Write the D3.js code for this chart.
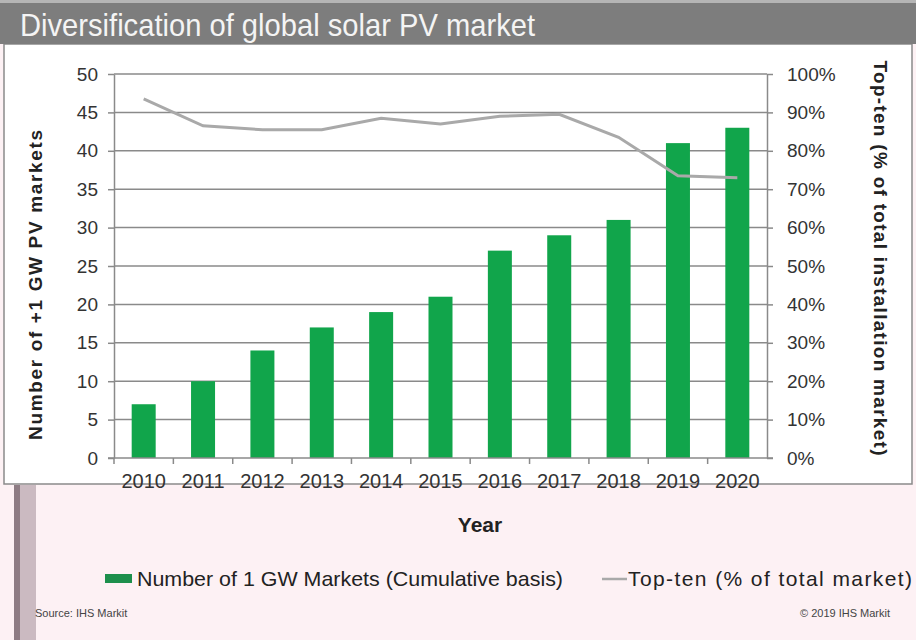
<!DOCTYPE html>
<html>
<head>
<meta charset="utf-8">
<script src="https://cdn.jsdelivr.net/npm/d3@7"></script>
<style>
body { margin: 0; background: #fff; }
svg { display: block; font-family: "Liberation Sans", Arial, sans-serif; }
</style>
</head>
<body>
<div id="viz"></div>
<script>
// data
var years = ["2010","2011","2012","2013","2014","2015","2016","2017","2018","2019","2020"];
var markets = [7, 10, 14, 17, 19, 21, 27, 29, 31, 41, 43];
var topTen = [93.5, 86.5, 85.5, 85.5, 88.5, 87, 89, 89.5, 83.5, 73.5, 73];
var leftTicks = [0, 5, 10, 15, 20, 25, 30, 35, 40, 45, 50];
var rightTicks = [0, 10, 20, 30, 40, 50, 60, 70, 80, 90, 100];

var W = 916, H = 640;
var pLeft = 114, pRight = 767, pTop = 74, pBottom = 458;

var svg = d3.select("#viz")
	.append("svg")
	.attr("width", W)
	.attr("height", H);

// backgrounds
svg.append("rect").attr("x",0).attr("y",0).attr("width",W).attr("height",H).attr("fill","#fdf1f4");
svg.append("rect").attr("x",4).attr("y",44).attr("width",908).attr("height",440)
	.attr("fill","#fff").attr("stroke","#8a8a8a").attr("stroke-width",1.5);
svg.append("rect").attr("x",0).attr("y",0).attr("width",W).attr("height",44).attr("fill","#7d7d7d");
svg.append("rect").attr("x",0).attr("y",0).attr("width",W).attr("height",3).attr("fill","#b5b5b5");
svg.append("rect").attr("x",14).attr("y",485).attr("width",6).attr("height",H-485).attr("fill","#8e7c84");
svg.append("rect").attr("x",20).attr("y",485).attr("width",16).attr("height",H-485).attr("fill","#cbbac1");

svg.append("text")
	.attr("x",20).attr("y",36)
	.attr("fill","#f4f4f4")
	.attr("textLength",515).attr("lengthAdjust","spacingAndGlyphs")
	.style("font-size","32px")
	.text("Diversification  of global solar PV market");

// scales
var xo = d3.scaleBand().domain(years).range([pLeft, pRight]);
var y = d3.scaleLinear().domain([0, 50]).range([pBottom, pTop]);
var y2 = d3.scaleLinear().domain([0, 100]).range([pBottom, pTop]);

// grid
svg.append("g").selectAll("line")
	.data(leftTicks.slice(1))
	.enter().append("line")
	.attr("x1", pLeft).attr("x2", pRight)
	.attr("y1", function(d){ return y(d); })
	.attr("y2", function(d){ return y(d); })
	.attr("stroke","#8a8a8a").attr("stroke-width",1.5);

// bars
svg.append("g").selectAll("rect")
	.data(markets)
	.enter().append("rect")
	.attr("x", function(d,i){ return xo(years[i]) + xo.bandwidth()/2 - 12; })
	.attr("width", 24)
	.attr("y", function(d){ return y(d); })
	.attr("height", function(d){ return pBottom - y(d); })
	.attr("fill","#11a54b");

// line
var line = d3.line()
	.x(function(d,i){ return xo(years[i]) + xo.bandwidth()/2; })
	.y(function(d){ return y2(d); });
svg.append("path")
	.datum(topTen)
	.attr("d", line)
	.attr("fill","none")
	.attr("stroke","#a9a9a9")
	.attr("stroke-width",3);

// axes
function styleAxis(g){
	g.selectAll("path,line").attr("stroke","#8a8a8a").attr("stroke-width",1.5);
	g.selectAll("text").attr("fill","#333").style("font-size","19px").style("font-family","'Liberation Sans', Arial, sans-serif");
}

var gl = svg.append("g").attr("transform","translate("+pLeft+",0)")
	.call(d3.axisLeft(y).tickValues(leftTicks).tickSize(6).tickSizeOuter(0).tickPadding(10));
styleAxis(gl);

var gr = svg.append("g").attr("transform","translate("+pRight+",0)")
	.call(d3.axisRight(y2).tickValues(rightTicks).tickSize(6).tickSizeOuter(0).tickPadding(14)
		.tickFormat(function(d){ return d + "%"; }));
styleAxis(gr);

var gb = svg.append("g").attr("transform","translate(0,"+pBottom+")")
	.call(d3.axisBottom(xo).tickSize(0).tickPadding(16));
styleAxis(gb);
gb.selectAll("text").style("font-size","20px");
gb.select(".domain").remove();
svg.append("line").attr("x1",pLeft-6).attr("x2",pRight+6).attr("y1",pBottom).attr("y2",pBottom)
	.attr("stroke","#8a8a8a").attr("stroke-width",1.5);
// tick marks between categories
svg.append("g").selectAll("line")
	.data(years)
	.enter().append("line")
	.attr("x1", function(d){ return xo(d); })
	.attr("x2", function(d){ return xo(d); })
	.attr("y1", pBottom).attr("y2", pBottom + 6)
	.attr("stroke","#8a8a8a").attr("stroke-width",1.5);

// axis titles
svg.append("text")
	.attr("transform","translate(42,285) rotate(-90)")
	.attr("text-anchor","middle")
	.attr("textLength",310).attr("lengthAdjust","spacing")
	.style("font-size","19px").style("font-weight","bold")
	.attr("fill","#222")
	.text("Number of +1 GW PV markets");

svg.append("text")
	.attr("transform","translate(874,258) rotate(90)")
	.attr("text-anchor","middle")
	.attr("textLength",395).attr("lengthAdjust","spacing")
	.style("font-size","19px").style("font-weight","bold")
	.attr("fill","#222")
	.text("Top-ten (% of total installation market)");

svg.append("text")
	.attr("x",480).attr("y",532)
	.attr("text-anchor","middle")
	.style("font-size","21px").style("font-weight","bold")
	.attr("fill","#222")
	.text("Year");

// legend
svg.append("rect").attr("x",105).attr("y",574).attr("width",27).attr("height",9).attr("fill","#1d8f4c");
svg.append("text").attr("x",137).attr("y",586)
	.attr("textLength",426).attr("lengthAdjust","spacingAndGlyphs")
	.style("font-size","21px").attr("fill","#222")
	.text("Number of 1 GW Markets (Cumulative basis)");
svg.append("line").attr("x1",602).attr("x2",627).attr("y1",579).attr("y2",579)
	.attr("stroke","#a9a9a9").attr("stroke-width",2.5);
svg.append("text").attr("x",628).attr("y",586)
	.attr("textLength",284).attr("lengthAdjust","spacing")
	.style("font-size","21px").attr("fill","#222")
	.text("Top-ten (% of total market)");

// source
svg.append("text").attr("x",35).attr("y",617)
	.style("font-size","11px").attr("fill","#444")
	.text("Source: IHS Markit");
svg.append("text").attr("x",800).attr("y",617)
	.style("font-size","11px").attr("fill","#444")
	.text("\u00a9 2019 IHS Markit");
</script>
</body>
</html>
